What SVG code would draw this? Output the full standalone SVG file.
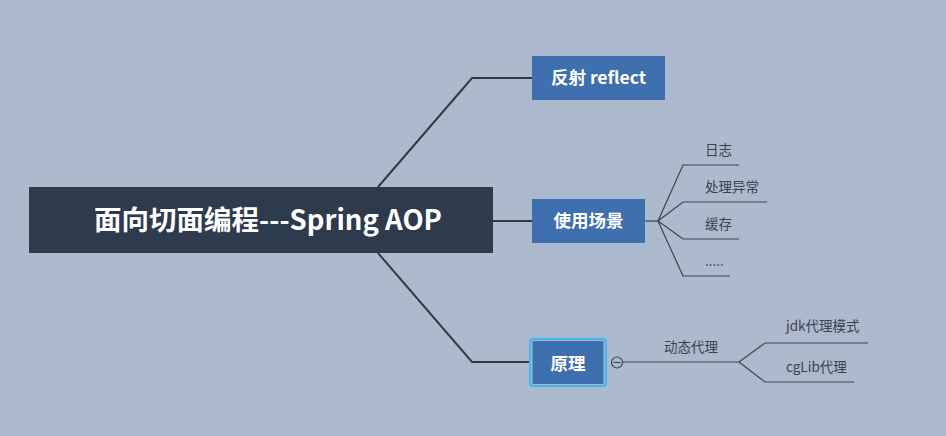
<svg xmlns="http://www.w3.org/2000/svg" width="946" height="436" viewBox="0 0 946 436">
<style>
.bg{fill:#adbace}
.ln{fill:none;stroke:#2f3a48;stroke-width:2}
.sl{fill:none;stroke:#3a4452;stroke-width:1.2}
.main{fill:#fff;font-family:"Noto Sans CJK SC","Open Sans",sans-serif;font-weight:bold}
.sub{fill:#3a4350;font-family:"Noto Sans CJK SC","Noto Sans",sans-serif;font-size:13.5px}
.box{fill:#3e6fae}
</style>
<rect class="bg" x="0" y="0" width="946" height="436"/>
<g id="connectors">
<polyline class="ln" points="378,187 472,78 532,78"/>
<line class="ln" x1="493" y1="221" x2="532" y2="221"/>
<polyline class="ln" points="378,253 472,362 530,362"/>
<line class="sl" x1="645" y1="221" x2="658" y2="221"/>
<polyline class="sl" points="658,221 683,165 739,165"/>
<polyline class="sl" points="658,221 683,202 767,202"/>
<polyline class="sl" points="658,221 683,239 739,239"/>
<polyline class="sl" points="658,221 683,276 730,276"/>
<line class="sl" x1="623" y1="362" x2="739" y2="362"/>
<polyline class="sl" points="739,362 765,343 868,343"/>
<polyline class="sl" points="739,362 765,382 854,382"/>
</g>
<g id="root">
<rect x="29" y="187" width="464" height="66" fill="#2e3b4c"/>
<text class="main" x="268" y="230" font-size="27.5" text-anchor="middle">面向切面编程---Spring AOP</text>
</g>
<g id="n-reflect">
<rect class="box" x="532" y="56" width="133" height="44"/>
<text class="main" x="598.5" y="84" font-size="17.5" text-anchor="middle">反射 reflect</text>
</g>
<g id="n-usage">
<rect class="box" x="532" y="199" width="113" height="44"/>
<text class="main" x="588.5" y="227" font-size="17.5" text-anchor="middle">使用场景</text>
</g>
<g id="n-principle">
<rect x="530" y="339" width="76" height="47" rx="3" fill="none" stroke="#3fb7f2" stroke-width="2"/>
<rect class="box" x="532.5" y="341" width="71" height="43"/>
<text class="main" x="568" y="370" font-size="17.5" text-anchor="middle">原理</text>
</g>
<g id="collapse">
<circle cx="617" cy="362.5" r="5.5" fill="none" stroke="#3a4452" stroke-width="1.2"/>
<line x1="613.5" y1="362.5" x2="620.5" y2="362.5" stroke="#3a4452" stroke-width="1.2"/>
</g>
<g id="n-log"><text class="sub" x="705" y="155">日志</text></g>
<g id="n-exc"><text class="sub" x="705" y="192">处理异常</text></g>
<g id="n-cache"><text class="sub" x="705" y="229">缓存</text></g>
<g id="n-more"><text class="sub" x="705" y="266">.....</text></g>
<g id="n-dyn"><text class="sub" x="664" y="352">动态代理</text></g>
<g id="n-jdk"><text class="sub" x="786" y="331">jdk代理模式</text></g>
<g id="n-cglib"><text class="sub" x="786" y="372">cgLib代理</text></g>
</svg>
